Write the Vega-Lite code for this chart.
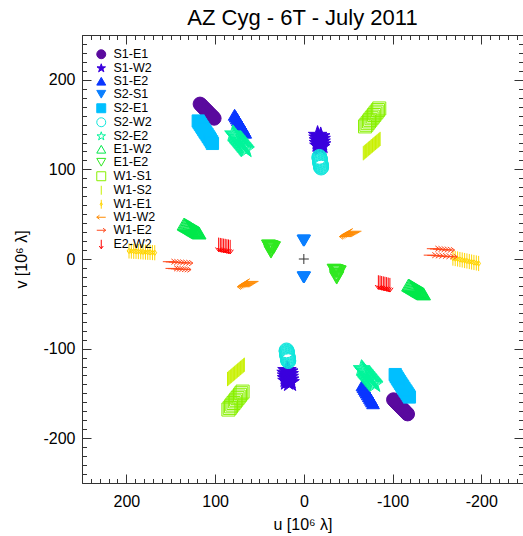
{
  "$schema": "https://vega.github.io/schema/vega-lite/v6.json",
  "width": 441,
  "height": 448,
  "autosize": {"type": "none"},
  "padding": {"left": 82, "top": 35, "right": 0, "bottom": 53},
  "background": "white",
  "title": {"text": "AZ Cyg - 6T - July 2011", "fontSize": 22, "font": "Liberation Sans", "fontWeight": "normal", "color": "#000", "offset": -3, "anchor": "middle"},
  "config": {"view": {"stroke": null}, "axis": {"grid": false}, "font": "Liberation Sans"},
  "datasets": {
    "uv": [
      {"b":"S1-E1","u":117,"v":173},{"b":"S1-E1","u":115.7,"v":171.7},{"b":"S1-E1","u":114.3,"v":170.3},{"b":"S1-E1","u":113,"v":169},{"b":"S1-E1","u":111.7,"v":167.7},{"b":"S1-E1","u":110.3,"v":166.3},{"b":"S1-E1","u":109,"v":165},{"b":"S1-E1","u":107.7,"v":163.7},{"b":"S1-E1","u":106.3,"v":162.3},{"b":"S1-E1","u":105,"v":161},{"b":"S1-E1","u":103.7,"v":159.7},{"b":"S1-E1","u":102.3,"v":158.3},{"b":"S1-E1","u":101,"v":157},
      {"b":"S1-E1","u":-117,"v":-173},{"b":"S1-E1","u":-115.7,"v":-171.7},{"b":"S1-E1","u":-114.3,"v":-170.3},{"b":"S1-E1","u":-113,"v":-169},{"b":"S1-E1","u":-111.7,"v":-167.7},{"b":"S1-E1","u":-110.3,"v":-166.3},{"b":"S1-E1","u":-109,"v":-165},{"b":"S1-E1","u":-107.7,"v":-163.7},{"b":"S1-E1","u":-106.3,"v":-162.3},{"b":"S1-E1","u":-105,"v":-161},{"b":"S1-E1","u":-103.7,"v":-159.7},{"b":"S1-E1","u":-102.3,"v":-158.3},{"b":"S1-E1","u":-101,"v":-157},
      {"b":"S1-W2","u":-15.5,"v":138},{"b":"S1-W2","u":-19,"v":136.5},{"b":"S1-W2","u":-16,"v":135},{"b":"S1-W2","u":-19.5,"v":133.5},{"b":"S1-W2","u":-16.5,"v":132},{"b":"S1-W2","u":-19.5,"v":130.5},{"b":"S1-W2","u":-16.5,"v":129},{"b":"S1-W2","u":-20,"v":127.5},{"b":"S1-W2","u":-17,"v":126},{"b":"S1-W2","u":-19,"v":124.5},
      {"b":"S1-W2","u":15.5,"v":-138},{"b":"S1-W2","u":19,"v":-136.5},{"b":"S1-W2","u":16,"v":-135},{"b":"S1-W2","u":19.5,"v":-133.5},{"b":"S1-W2","u":16.5,"v":-132},{"b":"S1-W2","u":19.5,"v":-130.5},{"b":"S1-W2","u":16.5,"v":-129},{"b":"S1-W2","u":20,"v":-127.5},{"b":"S1-W2","u":17,"v":-126},{"b":"S1-W2","u":19,"v":-124.5},
      {"b":"S1-E2","u":78,"v":161},{"b":"S1-E2","u":76.8,"v":159},{"b":"S1-E2","u":75.6,"v":157},{"b":"S1-E2","u":74.4,"v":155},{"b":"S1-E2","u":73.2,"v":153},{"b":"S1-E2","u":72,"v":151},{"b":"S1-E2","u":70.8,"v":149},{"b":"S1-E2","u":69.6,"v":147},{"b":"S1-E2","u":68.4,"v":145},{"b":"S1-E2","u":67.2,"v":143},{"b":"S1-E2","u":66,"v":141},
      {"b":"S1-E2","u":-78,"v":-161},{"b":"S1-E2","u":-76.8,"v":-159},{"b":"S1-E2","u":-75.6,"v":-157},{"b":"S1-E2","u":-74.4,"v":-155},{"b":"S1-E2","u":-73.2,"v":-153},{"b":"S1-E2","u":-72,"v":-151},{"b":"S1-E2","u":-70.8,"v":-149},{"b":"S1-E2","u":-69.6,"v":-147},{"b":"S1-E2","u":-68.4,"v":-145},{"b":"S1-E2","u":-67.2,"v":-143},{"b":"S1-E2","u":-66,"v":-141},
      {"b":"S2-S1","u":0.5,"v":20.5},{"b":"S2-S1","u":0,"v":20.5},{"b":"S2-S1","u":-0.5,"v":20.5},
      {"b":"S2-S1","u":-0.5,"v":-20.5},{"b":"S2-S1","u":0,"v":-20.5},{"b":"S2-S1","u":0.5,"v":-20.5},
      {"b":"S2-E1","u":119,"v":154},{"b":"S2-E1","u":117.8,"v":152},{"b":"S2-E1","u":116.5,"v":150.2},{"b":"S2-E1","u":115.3,"v":148.3},{"b":"S2-E1","u":114,"v":146.4},{"b":"S2-E1","u":112.8,"v":144.5},{"b":"S2-E1","u":111.5,"v":142.6},{"b":"S2-E1","u":110.3,"v":140.7},{"b":"S2-E1","u":109,"v":138.8},{"b":"S2-E1","u":107.8,"v":136.9},{"b":"S2-E1","u":106.5,"v":135},{"b":"S2-E1","u":105.3,"v":133},{"b":"S2-E1","u":104,"v":131},{"b":"S2-E1","u":103,"v":129},
      {"b":"S2-E1","u":-119,"v":-154},{"b":"S2-E1","u":-117.8,"v":-152},{"b":"S2-E1","u":-116.5,"v":-150.2},{"b":"S2-E1","u":-115.3,"v":-148.3},{"b":"S2-E1","u":-114,"v":-146.4},{"b":"S2-E1","u":-112.8,"v":-144.5},{"b":"S2-E1","u":-111.5,"v":-142.6},{"b":"S2-E1","u":-110.3,"v":-140.7},{"b":"S2-E1","u":-109,"v":-138.8},{"b":"S2-E1","u":-107.8,"v":-136.9},{"b":"S2-E1","u":-106.5,"v":-135},{"b":"S2-E1","u":-105.3,"v":-133},{"b":"S2-E1","u":-104,"v":-131},{"b":"S2-E1","u":-103,"v":-129},
      {"b":"S2-W2","u":-17.5,"v":114},{"b":"S2-W2","u":-17.6,"v":113.25},{"b":"S2-W2","u":-17.8,"v":112.5},{"b":"S2-W2","u":-17.9,"v":111.75},{"b":"S2-W2","u":-18,"v":111},{"b":"S2-W2","u":-18.1,"v":110.25},{"b":"S2-W2","u":-18.3,"v":109.5},{"b":"S2-W2","u":-18.4,"v":108.75},{"b":"S2-W2","u":-18.5,"v":108},{"b":"S2-W2","u":-18.6,"v":107.25},{"b":"S2-W2","u":-18.8,"v":106.5},{"b":"S2-W2","u":-18.9,"v":105.75},{"b":"S2-W2","u":-19,"v":105},{"b":"S2-W2","u":-19.1,"v":104.25},{"b":"S2-W2","u":-19.3,"v":103.5},{"b":"S2-W2","u":-19.4,"v":102.75},{"b":"S2-W2","u":-19.5,"v":102},
      {"b":"S2-W2","u":17.5,"v":-114},{"b":"S2-W2","u":17.6,"v":-113.25},{"b":"S2-W2","u":17.8,"v":-112.5},{"b":"S2-W2","u":17.9,"v":-111.75},{"b":"S2-W2","u":18,"v":-111},{"b":"S2-W2","u":18.1,"v":-110.25},{"b":"S2-W2","u":18.3,"v":-109.5},{"b":"S2-W2","u":18.4,"v":-108.75},{"b":"S2-W2","u":18.5,"v":-108},{"b":"S2-W2","u":18.6,"v":-107.25},{"b":"S2-W2","u":18.8,"v":-106.5},{"b":"S2-W2","u":18.9,"v":-105.75},{"b":"S2-W2","u":19,"v":-105},{"b":"S2-W2","u":19.1,"v":-104.25},{"b":"S2-W2","u":19.3,"v":-103.5},{"b":"S2-W2","u":19.4,"v":-102.75},{"b":"S2-W2","u":19.5,"v":-102},
      {"b":"S2-E2","u":80,"v":140},{"b":"S2-E2","u":79.3,"v":139.2},{"b":"S2-E2","u":78.6,"v":138.4},{"b":"S2-E2","u":78,"v":137.5},{"b":"S2-E2","u":77.3,"v":136.7},{"b":"S2-E2","u":76.6,"v":135.9},{"b":"S2-E2","u":75.9,"v":135.1},{"b":"S2-E2","u":75.2,"v":134.3},{"b":"S2-E2","u":74.5,"v":133.5},{"b":"S2-E2","u":73.9,"v":132.6},{"b":"S2-E2","u":73.2,"v":131.8},{"b":"S2-E2","u":72.5,"v":131},{"b":"S2-E2","u":71.8,"v":130.2},{"b":"S2-E2","u":71.1,"v":129.4},{"b":"S2-E2","u":70.5,"v":128.5},{"b":"S2-E2","u":69.8,"v":127.7},{"b":"S2-E2","u":69.1,"v":126.9},{"b":"S2-E2","u":68.4,"v":126.1},{"b":"S2-E2","u":67.7,"v":125.3},{"b":"S2-E2","u":67,"v":124.5},{"b":"S2-E2","u":66.4,"v":123.6},{"b":"S2-E2","u":65.7,"v":122.8},{"b":"S2-E2","u":65,"v":122},
      {"b":"S2-E2","u":-80,"v":-140},{"b":"S2-E2","u":-79.3,"v":-139.2},{"b":"S2-E2","u":-78.6,"v":-138.4},{"b":"S2-E2","u":-78,"v":-137.5},{"b":"S2-E2","u":-77.3,"v":-136.7},{"b":"S2-E2","u":-76.6,"v":-135.9},{"b":"S2-E2","u":-75.9,"v":-135.1},{"b":"S2-E2","u":-75.2,"v":-134.3},{"b":"S2-E2","u":-74.5,"v":-133.5},{"b":"S2-E2","u":-73.9,"v":-132.6},{"b":"S2-E2","u":-73.2,"v":-131.8},{"b":"S2-E2","u":-72.5,"v":-131},{"b":"S2-E2","u":-71.8,"v":-130.2},{"b":"S2-E2","u":-71.1,"v":-129.4},{"b":"S2-E2","u":-70.5,"v":-128.5},{"b":"S2-E2","u":-69.8,"v":-127.7},{"b":"S2-E2","u":-69.1,"v":-126.9},{"b":"S2-E2","u":-68.4,"v":-126.1},{"b":"S2-E2","u":-67.7,"v":-125.3},{"b":"S2-E2","u":-67,"v":-124.5},{"b":"S2-E2","u":-66.4,"v":-123.6},{"b":"S2-E2","u":-65.7,"v":-122.8},{"b":"S2-E2","u":-65,"v":-122},
      {"b":"E1-W2","u":135,"v":39},{"b":"E1-W2","u":134.2,"v":38.5},{"b":"E1-W2","u":133.5,"v":38.1},{"b":"E1-W2","u":132.7,"v":37.6},{"b":"E1-W2","u":131.9,"v":37.2},{"b":"E1-W2","u":131.1,"v":36.7},{"b":"E1-W2","u":130.4,"v":36.3},{"b":"E1-W2","u":129.6,"v":35.9},{"b":"E1-W2","u":128.8,"v":35.4},{"b":"E1-W2","u":128,"v":35},{"b":"E1-W2","u":127.3,"v":34.5},{"b":"E1-W2","u":126.5,"v":34},{"b":"E1-W2","u":125.7,"v":33.5},{"b":"E1-W2","u":124.9,"v":33.1},{"b":"E1-W2","u":124.2,"v":32.6},{"b":"E1-W2","u":123.4,"v":32.2},{"b":"E1-W2","u":122.6,"v":31.7},{"b":"E1-W2","u":121.8,"v":31.3},{"b":"E1-W2","u":121.1,"v":30.8},{"b":"E1-W2","u":120.3,"v":30.4},{"b":"E1-W2","u":119.5,"v":29.9},{"b":"E1-W2","u":118.8,"v":29.5},{"b":"E1-W2","u":118,"v":29},
      {"b":"E1-W2","u":-135,"v":-39},{"b":"E1-W2","u":-134.2,"v":-38.5},{"b":"E1-W2","u":-133.5,"v":-38.1},{"b":"E1-W2","u":-132.7,"v":-37.6},{"b":"E1-W2","u":-131.9,"v":-37.2},{"b":"E1-W2","u":-131.1,"v":-36.7},{"b":"E1-W2","u":-130.4,"v":-36.3},{"b":"E1-W2","u":-129.6,"v":-35.9},{"b":"E1-W2","u":-128.8,"v":-35.4},{"b":"E1-W2","u":-128,"v":-35},{"b":"E1-W2","u":-127.3,"v":-34.5},{"b":"E1-W2","u":-126.5,"v":-34},{"b":"E1-W2","u":-125.7,"v":-33.5},{"b":"E1-W2","u":-124.9,"v":-33.1},{"b":"E1-W2","u":-124.2,"v":-32.6},{"b":"E1-W2","u":-123.4,"v":-32.2},{"b":"E1-W2","u":-122.6,"v":-31.7},{"b":"E1-W2","u":-121.8,"v":-31.3},{"b":"E1-W2","u":-121.1,"v":-30.8},{"b":"E1-W2","u":-120.3,"v":-30.4},{"b":"E1-W2","u":-119.5,"v":-29.9},{"b":"E1-W2","u":-118.8,"v":-29.5},{"b":"E1-W2","u":-118,"v":-29},
      {"b":"E1-E2","u":40,"v":14.5},{"b":"E1-E2","u":39.4,"v":14.3},{"b":"E1-E2","u":38.8,"v":14.1},{"b":"E1-E2","u":38.2,"v":13.9},{"b":"E1-E2","u":37.6,"v":13.7},{"b":"E1-E2","u":37,"v":13.5},{"b":"E1-E2","u":36.4,"v":13.3},{"b":"E1-E2","u":35.8,"v":13.1},{"b":"E1-E2","u":35.2,"v":12.9},{"b":"E1-E2","u":34.6,"v":12.7},{"b":"E1-E2","u":34,"v":12.5},
      {"b":"E1-E2","u":38.5,"v":12.5},{"b":"E1-E2","u":37.5,"v":11.7},{"b":"E1-E2","u":36.5,"v":10.9},{"b":"E1-E2","u":37.5,"v":10.1},{"b":"E1-E2","u":36.8,"v":9.3},{"b":"E1-E2","u":37.2,"v":8.5},{"b":"E1-E2","u":37,"v":7.7},
      {"b":"E1-E2","u":-40,"v":-14.5},{"b":"E1-E2","u":-39.4,"v":-14.3},{"b":"E1-E2","u":-38.8,"v":-14.1},{"b":"E1-E2","u":-38.2,"v":-13.9},{"b":"E1-E2","u":-37.6,"v":-13.7},{"b":"E1-E2","u":-37,"v":-13.5},{"b":"E1-E2","u":-36.4,"v":-13.3},{"b":"E1-E2","u":-35.8,"v":-13.1},{"b":"E1-E2","u":-35.2,"v":-12.9},{"b":"E1-E2","u":-34.6,"v":-12.7},{"b":"E1-E2","u":-34,"v":-12.5},
      {"b":"E1-E2","u":-38.5,"v":-16.5},{"b":"E1-E2","u":-37.5,"v":-17.3},{"b":"E1-E2","u":-36.5,"v":-18.1},{"b":"E1-E2","u":-37.5,"v":-18.9},{"b":"E1-E2","u":-36.8,"v":-19.7},{"b":"E1-E2","u":-37.2,"v":-20.5},{"b":"E1-E2","u":-37,"v":-21.3},
      {"b":"W1-S1","u":-85,"v":168},{"b":"W1-S1","u":-83.5,"v":166.2},{"b":"W1-S1","u":-82.1,"v":164.4},{"b":"W1-S1","u":-80.6,"v":162.5},{"b":"W1-S1","u":-79.2,"v":160.7},{"b":"W1-S1","u":-77.7,"v":158.9},{"b":"W1-S1","u":-76.3,"v":157.1},{"b":"W1-S1","u":-74.8,"v":155.3},{"b":"W1-S1","u":-73.4,"v":153.5},{"b":"W1-S1","u":-71.9,"v":151.6},{"b":"W1-S1","u":-70.5,"v":149.8},{"b":"W1-S1","u":-69,"v":148},
      {"b":"W1-S1","u":85,"v":-168},{"b":"W1-S1","u":83.5,"v":-166.2},{"b":"W1-S1","u":82.1,"v":-164.4},{"b":"W1-S1","u":80.6,"v":-162.5},{"b":"W1-S1","u":79.2,"v":-160.7},{"b":"W1-S1","u":77.7,"v":-158.9},{"b":"W1-S1","u":76.3,"v":-157.1},{"b":"W1-S1","u":74.8,"v":-155.3},{"b":"W1-S1","u":73.4,"v":-153.5},{"b":"W1-S1","u":71.9,"v":-151.6},{"b":"W1-S1","u":70.5,"v":-149.8},{"b":"W1-S1","u":69,"v":-148},
      {"b":"W1-S2","u":-86,"v":134},{"b":"W1-S2","u":-85.1,"v":133.3},{"b":"W1-S2","u":-84.3,"v":132.5},{"b":"W1-S2","u":-83.4,"v":131.8},{"b":"W1-S2","u":-82.5,"v":131.1},{"b":"W1-S2","u":-81.7,"v":130.4},{"b":"W1-S2","u":-80.8,"v":129.6},{"b":"W1-S2","u":-79.9,"v":128.9},{"b":"W1-S2","u":-79.1,"v":128.2},{"b":"W1-S2","u":-78.2,"v":127.5},{"b":"W1-S2","u":-77.4,"v":126.7},{"b":"W1-S2","u":-76.5,"v":126},{"b":"W1-S2","u":-75.6,"v":125.3},{"b":"W1-S2","u":-74.8,"v":124.5},{"b":"W1-S2","u":-73.9,"v":123.8},{"b":"W1-S2","u":-73,"v":123.1},{"b":"W1-S2","u":-72.2,"v":122.4},{"b":"W1-S2","u":-71.3,"v":121.6},{"b":"W1-S2","u":-70.5,"v":120.9},{"b":"W1-S2","u":-69.6,"v":120.2},{"b":"W1-S2","u":-68.7,"v":119.5},{"b":"W1-S2","u":-67.9,"v":118.7},{"b":"W1-S2","u":-67,"v":118},
      {"b":"W1-S2","u":86,"v":-134},{"b":"W1-S2","u":85.1,"v":-133.3},{"b":"W1-S2","u":84.3,"v":-132.5},{"b":"W1-S2","u":83.4,"v":-131.8},{"b":"W1-S2","u":82.5,"v":-131.1},{"b":"W1-S2","u":81.7,"v":-130.4},{"b":"W1-S2","u":80.8,"v":-129.6},{"b":"W1-S2","u":79.9,"v":-128.9},{"b":"W1-S2","u":79.1,"v":-128.2},{"b":"W1-S2","u":78.2,"v":-127.5},{"b":"W1-S2","u":77.4,"v":-126.7},{"b":"W1-S2","u":76.5,"v":-126},{"b":"W1-S2","u":75.6,"v":-125.3},{"b":"W1-S2","u":74.8,"v":-124.5},{"b":"W1-S2","u":73.9,"v":-123.8},{"b":"W1-S2","u":73,"v":-123.1},{"b":"W1-S2","u":72.2,"v":-122.4},{"b":"W1-S2","u":71.3,"v":-121.6},{"b":"W1-S2","u":70.5,"v":-120.9},{"b":"W1-S2","u":69.6,"v":-120.2},{"b":"W1-S2","u":68.7,"v":-119.5},{"b":"W1-S2","u":67.9,"v":-118.7},{"b":"W1-S2","u":67,"v":-118},
      {"b":"W1-E1","u":197,"v":9},{"b":"W1-E1","u":194.4,"v":8.8},{"b":"W1-E1","u":191.7,"v":8.6},{"b":"W1-E1","u":189.1,"v":8.5},{"b":"W1-E1","u":186.5,"v":8.3},{"b":"W1-E1","u":183.8,"v":8.1},{"b":"W1-E1","u":181.2,"v":7.9},{"b":"W1-E1","u":178.5,"v":7.7},{"b":"W1-E1","u":175.9,"v":7.5},{"b":"W1-E1","u":173.3,"v":7.4},{"b":"W1-E1","u":170.6,"v":7.2},{"b":"W1-E1","u":168,"v":7},
      {"b":"W1-E1","u":-197,"v":-5},{"b":"W1-E1","u":-194.4,"v":-4.4},{"b":"W1-E1","u":-191.7,"v":-3.9},{"b":"W1-E1","u":-189.1,"v":-3.4},{"b":"W1-E1","u":-186.5,"v":-2.8},{"b":"W1-E1","u":-183.8,"v":-2.2},{"b":"W1-E1","u":-181.2,"v":-1.7},{"b":"W1-E1","u":-178.5,"v":-1.1},{"b":"W1-E1","u":-175.9,"v":-0.6},{"b":"W1-E1","u":-173.3,"v":0},{"b":"W1-E1","u":-170.6,"v":0.5},{"b":"W1-E1","u":-168,"v":1},
      {"b":"W1-W2","u":-47,"v":25},{"b":"W1-W2","u":-48.4,"v":25.75},{"b":"W1-W2","u":-49.8,"v":26.5},{"b":"W1-W2","u":-51.1,"v":27.25},{"b":"W1-W2","u":-52.5,"v":28},{"b":"W1-W2","u":-53.9,"v":28.75},{"b":"W1-W2","u":-55.3,"v":29.5},{"b":"W1-W2","u":-56.6,"v":30.25},{"b":"W1-W2","u":-58,"v":31},
      {"b":"W1-W2","u":58,"v":-25},{"b":"W1-W2","u":59.25,"v":-25.75},{"b":"W1-W2","u":60.5,"v":-26.5},{"b":"W1-W2","u":61.75,"v":-27.25},{"b":"W1-W2","u":63,"v":-28},{"b":"W1-W2","u":64.25,"v":-28.75},{"b":"W1-W2","u":65.5,"v":-29.5},{"b":"W1-W2","u":66.75,"v":-30.25},{"b":"W1-W2","u":68,"v":-31},
      {"b":"W1-E2","u":152,"v":-3},{"b":"W1-E2","u":148.7,"v":-3.3},{"b":"W1-E2","u":145.3,"v":-3.5},{"b":"W1-E2","u":142,"v":-3.7},{"b":"W1-E2","u":138.7,"v":-4},{"b":"W1-E2","u":135.3,"v":-4.2},{"b":"W1-E2","u":132,"v":-4.5},
      {"b":"W1-E2","u":149,"v":-10.5},{"b":"W1-E2","u":146,"v":-10.8},{"b":"W1-E2","u":143,"v":-11},{"b":"W1-E2","u":140,"v":-11.3},{"b":"W1-E2","u":137,"v":-11.5},{"b":"W1-E2","u":134,"v":-11.8},
      {"b":"W1-E2","u":-166,"v":2.5},{"b":"W1-E2","u":-162,"v":2.8},{"b":"W1-E2","u":-158,"v":3.1},{"b":"W1-E2","u":-154,"v":3.4},{"b":"W1-E2","u":-150,"v":3.7},{"b":"W1-E2","u":-146,"v":4},{"b":"W1-E2","u":-142,"v":4.3},
      {"b":"W1-E2","u":-163,"v":10},{"b":"W1-E2","u":-159.5,"v":10.3},{"b":"W1-E2","u":-156,"v":10.6},{"b":"W1-E2","u":-152.5,"v":10.9},{"b":"W1-E2","u":-149,"v":11.2},{"b":"W1-E2","u":-145.5,"v":11.5},
      {"b":"E2-W2","u":96,"v":16},{"b":"E2-W2","u":94.1,"v":15.6},{"b":"E2-W2","u":92.3,"v":15.3},{"b":"E2-W2","u":90.4,"v":14.9},{"b":"E2-W2","u":88.6,"v":14.6},{"b":"E2-W2","u":86.7,"v":14.2},{"b":"E2-W2","u":84.9,"v":13.9},{"b":"E2-W2","u":83,"v":13.5},
      {"b":"E2-W2","u":-84,"v":-26},{"b":"E2-W2","u":-85.9,"v":-26.4},{"b":"E2-W2","u":-87.7,"v":-26.9},{"b":"E2-W2","u":-89.6,"v":-27.3},{"b":"E2-W2","u":-91.4,"v":-27.7},{"b":"E2-W2","u":-93.3,"v":-28.1},{"b":"E2-W2","u":-95.1,"v":-28.6},{"b":"E2-W2","u":-97,"v":-29}
    ],
    "origin": [{"u": 0, "v": 0}]
  },
  "layer": [
    {
      "data": {"name": "uv"},
      "mark": {"type": "point", "strokeWidth": 1, "opacity": 1},
      "encoding": {
        "x": {"field": "u", "type": "quantitative", "scale": {"domain": [250, -247], "nice": false, "zero": false},
          "axis": {"orient": "bottom", "title": "u [10⁶ λ]",
            "values": [-240,-230,-220,-210,-200,-190,-180,-170,-160,-150,-140,-130,-120,-110,-100,-90,-80,-70,-60,-50,-40,-30,-20,-10,0,10,20,30,40,50,60,70,80,90,100,110,120,130,140,150,160,170,180,190,200,210,220,230,240,250],
            "labelExpr": "datum.value % 100 === 0 ? '' + datum.value : ''",
            "tickSize": {"condition": {"test": "datum.value % 100 === 0", "value": -9}, "value": -4.5},
            "labelPadding": 19, "labelOverlap": false, "labelFlush": false, "labelBound": false,
            "labelFontSize": 16, "labelFont": "Liberation Sans", "labelColor": "#000",
            "titleFontSize": 16, "titleFont": "Liberation Sans", "titleFontWeight": "normal", "titleColor": "#000", "titlePadding": 3,
            "domainColor": "#333", "tickColor": "#333", "domainWidth": 1, "tickWidth": 1}},
        "y": {"field": "v", "type": "quantitative", "scale": {"domain": [-250, 250], "nice": false, "zero": false},
          "axis": {"orient": "left", "title": "v [10⁶ λ]",
            "values": [-250,-240,-230,-220,-210,-200,-190,-180,-170,-160,-150,-140,-130,-120,-110,-100,-90,-80,-70,-60,-50,-40,-30,-20,-10,0,10,20,30,40,50,60,70,80,90,100,110,120,130,140,150,160,170,180,190,200,210,220,230,240,250],
            "labelExpr": "datum.value % 100 === 0 ? '' + datum.value : ''",
            "tickSize": {"condition": {"test": "datum.value % 100 === 0", "value": -9}, "value": -4.5},
            "labelPadding": 16, "labelOverlap": false, "labelFlush": false, "labelBound": false,
            "labelFontSize": 16, "labelFont": "Liberation Sans", "labelColor": "#000",
            "titleFontSize": 16, "titleFont": "Liberation Sans", "titleFontWeight": "normal", "titleColor": "#000", "titlePadding": 13,
            "domainColor": "#333", "tickColor": "#333", "domainWidth": 1, "tickWidth": 1}},
        "size": {"field": "b", "type": "nominal", "legend": null,
          "scale": {"type": "ordinal", "domain": ["E2-W2","W1-E2","W1-W2","W1-E1","W1-S2","W1-S1","E1-E2","E1-W2","S2-E2","S2-W2","S2-E1","S2-S1","S1-E2","S1-W2","S1-E1"],
            "range": [200,150,150,230,200,170,190,190,300,220,150,160,160,380,190]}},
        "stroke": {"field": "b", "type": "nominal",
          "scale": {"domain": ["S1-E1","S1-W2","S1-E2","S2-S1","S2-E1","S2-W2","S2-E2","E1-W2","E1-E2","W1-S1","W1-S2","W1-E1","W1-W2","W1-E2","E2-W2"],
            "range": ["#5a0a9e","#3a00dd","#0a36ff","#0a7fff","#00bfff","#10e6dc","#00f59a","#00e84a","#30e820","#88f000","#c8f000","#ffd500","#ff8a00","#ff4a1e","#ff0000"]},
          "legend": {"title": null, "orient": "top-left", "offset": 13, "padding": 0, "symbolSize": 80, "symbolStrokeWidth": 1, "labelFontSize": 12.5, "labelFont": "Liberation Sans", "labelColor": "#000", "labelOffset": 6, "rowPadding": 0}},
        "fill": {"field": "b", "type": "nominal",
          "scale": {"domain": ["S1-E1","S1-W2","S1-E2","S2-S1","S2-E1","S2-W2","S2-E2","E1-W2","E1-E2","W1-S1","W1-S2","W1-E1","W1-W2","W1-E2","E2-W2"],
            "range": ["#5a0a9e","#3a00dd","#0a36ff","#0a7fff","#00bfff","transparent","transparent","transparent","transparent","transparent","transparent","transparent","transparent","transparent","transparent"]},
          "legend": {"title": null, "orient": "top-left", "offset": 13, "padding": 0, "symbolSize": 80, "symbolStrokeWidth": 1, "labelFontSize": 12.5, "labelFont": "Liberation Sans", "labelColor": "#000", "labelOffset": 6, "rowPadding": 0}},
        "shape": {"field": "b", "type": "nominal",
          "scale": {"domain": ["S1-E1","S1-W2","S1-E2","S2-S1","S2-E1","S2-W2","S2-E2","E1-W2","E1-E2","W1-S1","W1-S2","W1-E1","W1-W2","W1-E2","E2-W2"],
            "range": ["circle","M0,-1L0.2245,-0.309L0.951,-0.309L0.363,0.118L0.588,0.809L0,0.382L-0.588,0.809L-0.363,0.118L-0.951,-0.309L-0.2245,-0.309Z","triangle-up","triangle-down","square","circle","M0,-1L0.2245,-0.309L0.951,-0.309L0.363,0.118L0.588,0.809L0,0.382L-0.588,0.809L-0.363,0.118L-0.951,-0.309L-0.2245,-0.309Z","triangle-up","triangle-down","square","M0,-1L0,1","M0,-1L0,1M0,-0.35L0.25,0L0,0.35L-0.25,0Z","M-1,0L1,0M-1,0L-0.4,-0.45M-1,0L-0.4,0.45","M1,0L-1,0M1,0L0.4,-0.45M1,0L0.4,0.45","M0,-1L0,1M0,1L-0.45,0.4M0,1L0.45,0.4"]},
          "legend": {"title": null, "orient": "top-left", "offset": 13, "padding": 0, "symbolSize": 80, "symbolStrokeWidth": 1, "labelFontSize": 12.5, "labelFont": "Liberation Sans", "labelColor": "#000", "labelOffset": 6, "rowPadding": 0}}
      }
    },
    {
      "data": {"name": "origin"},
      "mark": {"type": "point", "shape": "M-1,0L1,0M0,-1L0,1", "size": 100, "filled": false, "color": "#333", "strokeWidth": 1, "opacity": 1},
      "encoding": {
        "x": {"field": "u", "type": "quantitative", "scale": {"domain": [250, -247], "nice": false, "zero": false},
          "axis": {"orient": "top", "title": null, "labels": false,
            "values": [-240,-230,-220,-210,-200,-190,-180,-170,-160,-150,-140,-130,-120,-110,-100,-90,-80,-70,-60,-50,-40,-30,-20,-10,0,10,20,30,40,50,60,70,80,90,100,110,120,130,140,150,160,170,180,190,200,210,220,230,240,250],
            "tickSize": {"condition": {"test": "datum.value % 100 === 0", "value": -9}, "value": -4.5},
            "domainColor": "#333", "tickColor": "#333", "domainWidth": 1, "tickWidth": 1}},
        "y": {"field": "v", "type": "quantitative", "scale": {"domain": [-250, 250], "nice": false, "zero": false},
          "axis": {"orient": "right", "title": null, "labels": false,
            "values": [-250,-240,-230,-220,-210,-200,-190,-180,-170,-160,-150,-140,-130,-120,-110,-100,-90,-80,-70,-60,-50,-40,-30,-20,-10,0,10,20,30,40,50,60,70,80,90,100,110,120,130,140,150,160,170,180,190,200,210,220,230,240,250],
            "tickSize": {"condition": {"test": "datum.value % 100 === 0", "value": -9}, "value": -4.5},
            "domainColor": "#333", "tickColor": "#333", "domainWidth": 1, "tickWidth": 1}}
      }
    }
  ],
  "resolve": {"axis": {"x": "independent", "y": "independent"}}
}
